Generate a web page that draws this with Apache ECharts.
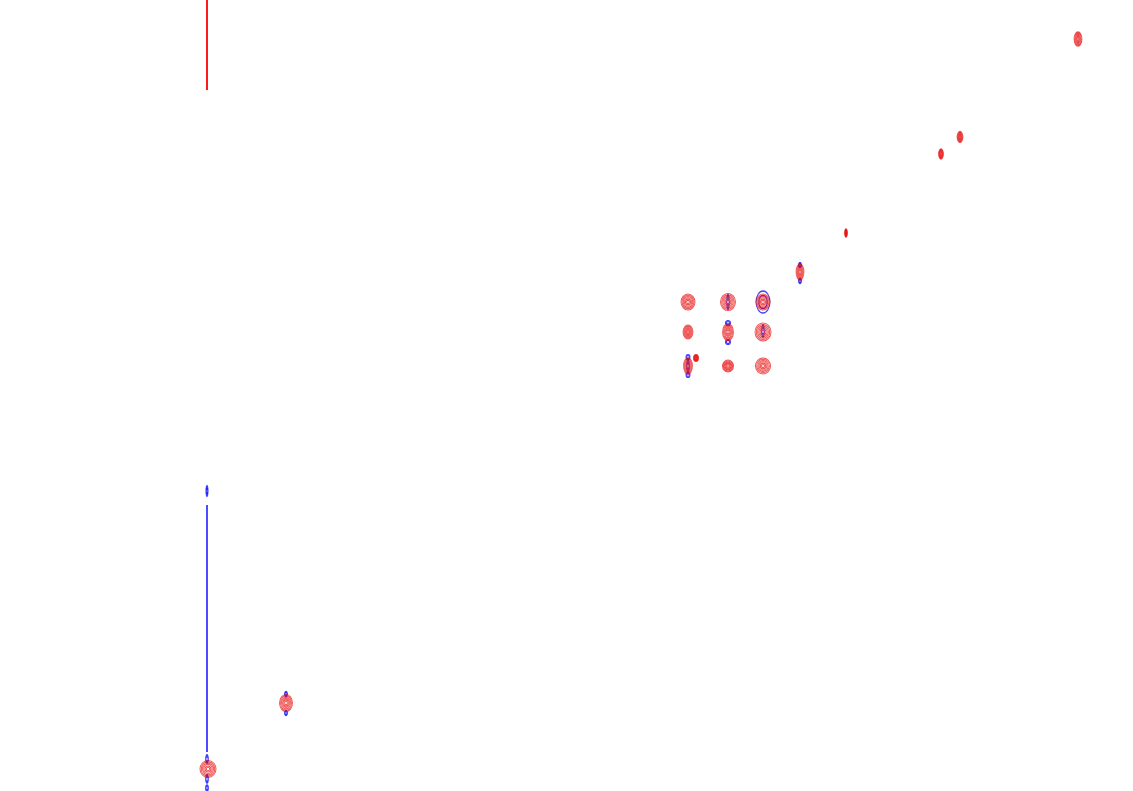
<!DOCTYPE html>
<html>
<head>
<meta charset="utf-8">
<script src="https://cdn.jsdelivr.net/npm/echarts@6/dist/echarts.min.js"></script>
<style>html,body{margin:0;padding:0;background:#fff}#c{width:1133px;height:791px}</style>
</head>
<body>
<div id="c"></div>
<script>
// Positive contour peaks: [x, y, widthX, widthY]
const redPeaks = [
  [1078, 39, 8, 14],
  [960, 137, 6, 11],
  [941, 154, 5, 10],
  [846, 233, 3, 8],
  [800, 272, 8, 16],
  [688, 302, 14, 16],
  [728, 302, 15, 17],
  [763, 302, 14, 16],
  [688, 332, 10, 14],
  [728, 332, 11, 17],
  [763, 332, 16, 18],
  [688, 366, 9, 16],
  [696, 358, 5, 7],
  [728, 366, 11, 12],
  [763, 366, 15, 16],
  [286, 703, 13, 17],
  [208, 769, 16, 17]
];
// Negative contour peaks: [x, y, widthX, widthY]
const bluePeaks = [
  [800, 265, 3, 5], [800, 281, 3, 5],
  [728, 302, 3, 14],
  [763, 302, 14, 22],
  [728, 323, 5, 5], [728, 342, 5, 5],
  [763, 331, 3, 12],
  [688, 357, 4, 5], [688, 375, 4, 5], [688, 366, 3, 12],
  [286, 694, 3, 5], [286, 713, 3, 5],
  [207, 759, 3, 8], [207, 779, 3, 8], [207, 788, 3, 6],
  [207, 491, 2, 8]
];
// Diagonal ridges as straight traces: [x, y]
const redRidge = [[207, 0], [207, 90]];
const blueRidge = [[207, 505], [207, 752]];

const levels = [1.0, 0.84, 0.68, 0.52, 0.36, 0.2];

function rings(peaks, lv) {
  const out = [];
  peaks.forEach(p => {
    lv.forEach(s => {
      out.push({ value: [p[0], p[1]], symbolSize: [Math.max(p[2] * s, 1.5), Math.max(p[3] * s, 2)] });
    });
  });
  return out;
}

const chart = echarts.init(document.getElementById('c'));
chart.setOption({
  animation: false,
  backgroundColor: '#fff',
  grid: { left: 0, right: 0, top: 0, bottom: 0 },
  xAxis: { type: 'value', min: 0, max: 1133, show: false },
  yAxis: { type: 'value', min: 0, max: 791, inverse: true, show: false },
  series: [
    {
      type: 'line', data: redRidge, showSymbol: false,
      lineStyle: { color: '#ff1a1a', width: 2 }, silent: true
    },
    {
      type: 'line', data: blueRidge, showSymbol: false,
      lineStyle: { color: '#2020ff', width: 1.6 }, silent: true
    },
    {
      type: 'scatter', symbol: 'circle', data: rings(bluePeaks, [1.0, 0.6]),
      itemStyle: { color: 'rgba(255,255,255,0)', borderColor: '#1010ff', borderWidth: 1.1 }, silent: true
    },
    {
      type: 'scatter', symbol: 'circle', data: rings(redPeaks, levels),
      itemStyle: { color: 'rgba(255,255,255,0)', borderColor: 'rgba(230,0,0,0.85)', borderWidth: 1 }, silent: true
    }
  ]
});
</script>
</body>
</html>
